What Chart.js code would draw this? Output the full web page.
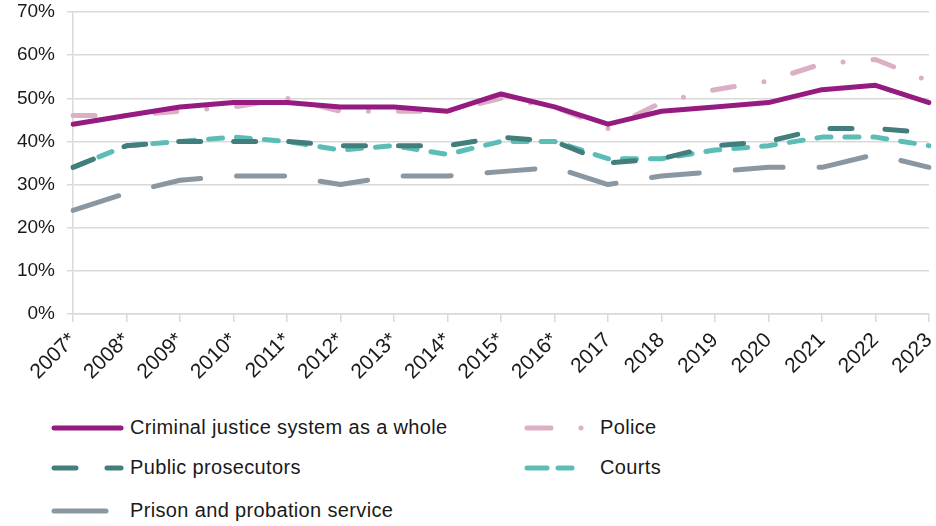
<!DOCTYPE html>
<html>
<head>
<meta charset="utf-8">
<script src="https://cdn.jsdelivr.net/npm/chart.js@4"></script>
<style>
    body { margin: 0; background: #fff; font-family: "Liberation Sans", Arial, sans-serif; }
    #wrap { position: relative; width: 936px; height: 526px; }
    #chartBox { position: absolute; left: 0; top: 0; width: 936px; height: 400px; }
    .item { position: absolute; height: 24px; font-size: 20px; letter-spacing: 0.35px; color: #1a1a1a; white-space: nowrap; }
    .item svg { position: absolute; left: 0; top: 0; }
    .item span { position: absolute; top: 0px; }
</style>
</head>
<body>
<div id="wrap">
    <div id="chartBox"><canvas id="trustChart"></canvas></div>
    <div id="legend"></div>
</div>
<script>
const years = ['2007*', '2008*', '2009*', '2010*', '2011*', '2012*', '2013*', '2014*', '2015*', '2016*',
    '2017', '2018', '2019', '2020', '2021', '2022', '2023'];
const wholeSystem = [44, 46, 48, 49, 49, 48, 48, 47, 51, 48, 44, 47, 48, 49, 52, 53, 49];
const police = [46, 46, 47, 48, 50, 47, 47, 47, 50, 48, 43, 49, 52, 54, 58, 59, 54];
const prosecutors = [34, 39, 40, 40, 40, 39, 39, 39, 41, 40, 35, 36, 39, 40, 43, 43, 42];
const courts = [34, 39, 40, 41, 40, 38, 39, 37, 40, 40, 36, 36, 38, 39, 41, 41, 39];
const prison = [24, 28, 31, 32, 32, 30, 32, 32, 33, 34, 30, 32, 33, 34, 34, 37, 34];
const yTicks = [0, 10, 20, 30, 40, 50, 60, 70];

const series = [
    { label: 'Criminal justice system as a whole', data: wholeSystem, color: '#951b81', dash: [], keyDash: 'none' },
    { label: 'Police', data: police, color: '#dcb0c4', dash: [22, 30, 0, 30], keyDash: '24 30 0 30' },
    { label: 'Public prosecutors', data: prosecutors, color: '#437e7d', dash: [22, 33], keyDash: '22 31' },
    { label: 'Courts', data: courts, color: '#5bbdb6', dash: [14, 14], keyDash: '20 11 14 11 0 20' },
    { label: 'Prison and probation service', data: prison, color: '#8a97a1', dash: [48, 36], keyDash: '52 40' }
];

const gridGrey = '#d9d9d9';

new Chart(document.getElementById('trustChart'), {
    type: 'line',
    data: {
        labels: years,
        datasets: series.map((s, i) => ({
            label: s.label,
            data: s.data,
            borderColor: s.color,
            backgroundColor: s.color,
            borderWidth: 5,
            borderDash: s.dash,
            borderCapStyle: 'round',
            borderJoinStyle: 'round',
            pointRadius: 0,
            tension: 0,
            order: i === 0 ? 0 : 1 // whole-system line on top
        }))
    },
    options: {
        responsive: true,
        maintainAspectRatio: false,
        animation: false,
        layout: { padding: { top: 12, right: 7, left: 0, bottom: 0 } },
        plugins: { legend: { display: false }, tooltip: { enabled: false } },
        scales: {
            x: {
                offset: false,
                grid: { drawOnChartArea: false, drawTicks: true, tickLength: 8, color: gridGrey, lineWidth: 1.5 },
                border: { color: gridGrey, width: 1.5 },
                ticks: {
                    autoSkip: false, maxRotation: 45, minRotation: 45, padding: 6,
                    color: '#1a1a1a', font: { family: 'Liberation Sans', size: 21 }
                },
                afterFit: scale => {
                    scale.height = 86;
                    scale.paddingLeft = 0;
                    scale.paddingRight = 0;
                }
            },
            y: {
                min: 0,
                max: 70,
                afterBuildTicks: scale => { scale.ticks = yTicks.map(v => ({ value: v })); },
                grid: { color: gridGrey, lineWidth: 1.5, tickLength: 6 },
                border: { color: gridGrey, width: 1.5 },
                ticks: {
                    padding: 12, color: '#1a1a1a',
                    font: { family: 'Liberation Sans', size: 19 },
                    callback: v => v + '%'
                },
                afterFit: scale => {
                    scale.width = 73;
                    scale.paddingTop = 0;
                    scale.paddingBottom = 0;
                }
            }
        }
    }
});

// legend, two columns like the original
const legendSpots = [
    { x: 54, y: 416, w: 72, textX: 130 },
    { x: 527, y: 416, w: 60, textX: 600 },
    { x: 54, y: 456, w: 72, textX: 130 },
    { x: 527, y: 456, w: 60, textX: 600 },
    { x: 54, y: 499, w: 72, textX: 130 }
];
const legendBox = document.getElementById('legend');
series.forEach((s, i) => {
    const spot = legendSpots[i];
    const item = document.createElement('div');
    item.className = 'item';
    item.style.left = (spot.x - 3) + 'px';
    item.style.top = spot.y + 'px';
    item.innerHTML =
        '<svg width="' + (spot.w + 6) + '" height="24"><line x1="3" y1="12" x2="' + (spot.w - 2) + '" y2="12" stroke="' + s.color +
        '" stroke-width="5" stroke-linecap="round" stroke-dasharray="' + s.keyDash + '"/></svg>' +
        '<span style="left:' + (spot.textX - spot.x + 3) + 'px">' + s.label + '</span>';
    legendBox.appendChild(item);
});
</script>
</body>
</html>
